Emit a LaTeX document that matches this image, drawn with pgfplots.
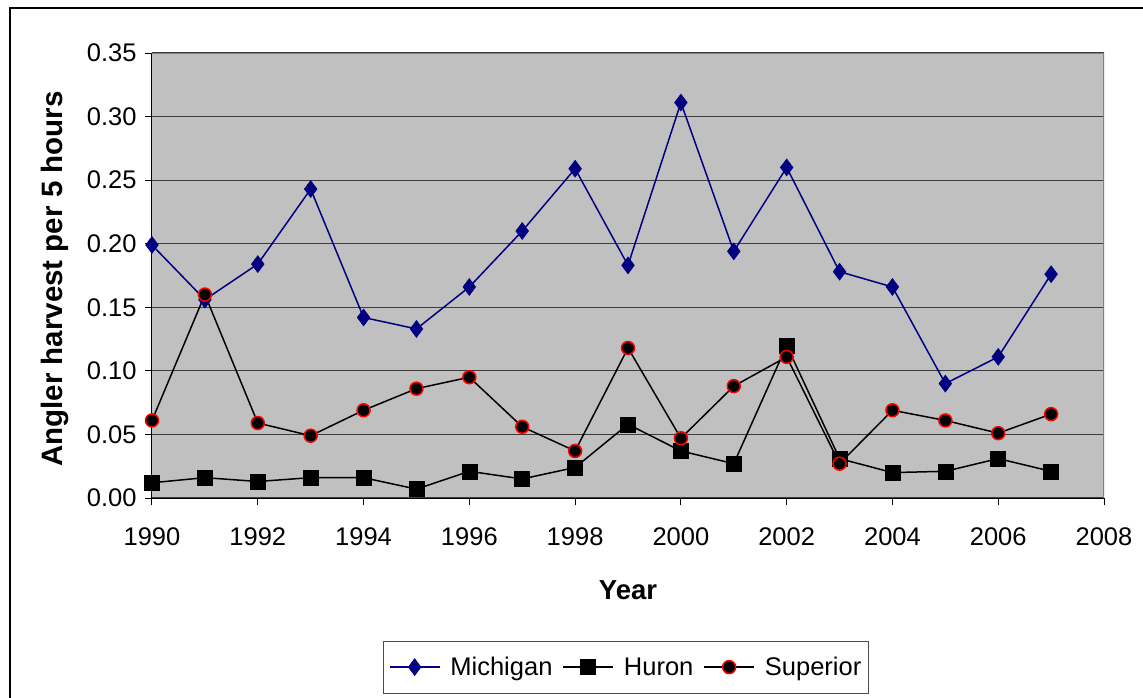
\documentclass[border=0pt]{standalone}
\usepackage{pgfplots}
\pgfplotsset{compat=1.18}
\usepackage{fontspec}
\setmainfont{Liberation Sans}
\definecolor{navyc}{RGB}{0,0,128}
\definecolor{plotbg}{RGB}{192,192,192}
\definecolor{gridc}{RGB}{60,60,60}
\pgfplotstableread{
year mich huron sup
1990 0.199 0.012 0.061
1991 0.156 0.016 0.160
1992 0.184 0.013 0.059
1993 0.243 0.016 0.049
1994 0.142 0.016 0.069
1995 0.133 0.007 0.086
1996 0.166 0.021 0.095
1997 0.210 0.015 0.056
1998 0.259 0.024 0.037
1999 0.183 0.058 0.118
2000 0.311 0.037 0.047
2001 0.194 0.027 0.088
2002 0.260 0.120 0.111
2003 0.178 0.031 0.027
2004 0.166 0.020 0.069
2005 0.090 0.021 0.061
2006 0.111 0.031 0.051
2007 0.176 0.021 0.066
}\datatable
\begin{document}
\begin{tikzpicture}
\useasboundingbox (0pt,0pt) rectangle (1143pt,-697pt);
\fill[white] (0pt,0pt) rectangle (1143pt,-697pt);
\draw[black, line width=1.5pt] (10pt,-710pt) -- (10pt,-8pt) -- (1160pt,-8pt);
\begin{axis}[
  at={(152pt,-498pt)}, anchor=origin,
  scale only axis, width=952pt, height=445pt,
  xmin=1990, xmax=2008, ymin=0, ymax=0.35,
  xtick={1990,1992,...,2008},
  ytick={0,0.05,0.1,0.15,0.2,0.25,0.3,0.35},
  axis lines=left, axis line style={-, black, line width=1pt},
  tick align=outside, major tick length=7pt,
  tick style={black, line width=1pt},
  axis background/.style={fill=plotbg},
  ymajorgrids, grid style={gridc, line width=1.2pt},
  font=\fontsize{25.5}{30}\selectfont,
  /pgf/number format/assume math mode=true,
  /pgf/number format/1000 sep={},
  yticklabel style={xshift=-5pt, /pgf/number format/fixed, /pgf/number format/fixed zerofill, /pgf/number format/precision=2},
  xticklabel style={yshift=-19pt},
  xlabel={\fontsize{27.5}{32}\selectfont\textbf{Year}},
  ylabel={\fontsize{29.5}{34}\selectfont\textbf{Angler harvest per 5 hours}},
  every axis x label/.style={at={(rel axis cs:0.5,-0.207)}, anchor=center},
  every axis y label/.style={at={(rel axis cs:-0.102,0.492)}, rotate=90, anchor=center},
  legend columns=3,
  legend style={at={(0.498,-0.38)}, anchor=center, draw=black!70, line width=1pt,
    font=\fontsize{25.5}{30}\selectfont, inner xsep=5pt, inner ysep=14pt,
    /tikz/every even column/.append style={column sep=8pt},
    /tikz/every odd column/.append style={column sep=8pt}},
  legend image code/.code={\draw[mark repeat=2,mark phase=2] plot coordinates {(0pt,0pt) (25pt,0pt) (50pt,0pt)};},
]
\addplot[navyc, line width=1.5pt, mark=diamond*, mark size=8.5pt, mark options={fill=navyc, draw=navyc, line width=0.5pt}] table[x=year, y=mich] {\datatable};
\addlegendentry{Michigan}
\addplot[black, line width=1.5pt, mark=square*, mark size=7.5pt, mark options={fill=black, draw=black, line width=0.5pt}] table[x=year, y=huron] {\datatable};
\addlegendentry{Huron}
\addplot[black, line width=1.5pt, mark=*, mark size=6.5pt, mark options={fill=black, draw=red, line width=1.5pt}] table[x=year, y=sup] {\datatable};
\addlegendentry{Superior}
\draw[gray, line width=1.5pt] (rel axis cs:0,1) -- (rel axis cs:1,1) -- (rel axis cs:1,0);
\end{axis}
\end{tikzpicture}
\end{document}
